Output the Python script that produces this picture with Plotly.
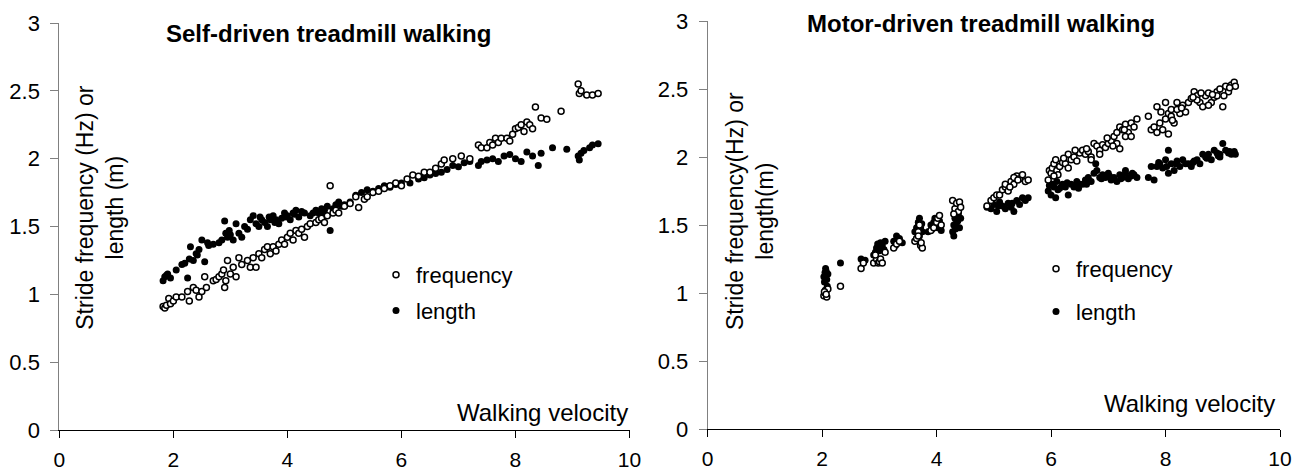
import plotly.graph_objects as go

# ---------------- Data: Self-driven treadmill walking ----------------
self_freq_v = [1.82, 1.85, 1.88, 1.92, 1.95, 2.0, 2.05, 2.15, 2.25, 2.28, 2.35, 2.4, 2.45, 2.5, 2.55, 2.58,
               2.7, 2.75, 2.8, 2.85, 2.88, 2.9, 2.92, 2.95, 3.0, 3.05, 3.1, 3.15, 3.2, 3.3, 3.35, 3.4, 3.45,
               3.5, 3.55, 3.6, 3.65, 3.7, 3.75, 3.8, 3.85, 3.9, 3.95, 4.0, 4.05, 4.1, 4.15, 4.2, 4.25, 4.3,
               4.35, 4.4, 4.5, 4.55, 4.6, 4.65, 4.7, 4.75, 4.8, 4.85, 4.9, 5.0, 5.1, 5.2, 5.25, 5.35, 5.4,
               5.5, 5.6, 5.7, 5.8, 5.9, 6.0, 6.1, 6.2, 6.3, 6.4, 6.5, 6.6, 6.7, 6.75, 6.9, 7.05, 7.2, 7.35,
               7.4, 7.5, 7.55, 7.6, 7.65, 7.7, 7.75, 7.85, 7.9, 7.95, 8.0, 8.05, 8.1, 8.15, 8.2, 8.25, 8.3,
               8.35, 8.45, 8.55, 8.8, 9.1, 9.12, 9.15, 9.25, 9.35, 9.45]
self_freq_y = [0.91, 0.90, 0.92, 0.97, 0.93, 0.95, 0.98, 0.98, 1.02, 0.95, 1.05, 1.03, 0.98, 1.02, 1.13, 1.05,
               1.10, 1.11, 1.13, 1.15, 1.18, 1.05, 1.10, 1.25, 1.15, 1.20, 1.13, 1.27, 1.22, 1.25, 1.20, 1.27, 1.20,
               1.30, 1.27, 1.33, 1.35, 1.30, 1.35, 1.32, 1.37, 1.40, 1.37, 1.42, 1.45, 1.40, 1.47, 1.45, 1.48, 1.42,
               1.50, 1.52, 1.53, 1.55, 1.56, 1.53, 1.58, 1.80, 1.60, 1.62, 1.60, 1.65, 1.67, 1.72, 1.64, 1.70, 1.72,
               1.75, 1.76, 1.78, 1.80, 1.82, 1.80, 1.85, 1.88, 1.87, 1.90, 1.90, 1.93, 1.96, 1.99, 2.00, 2.02, 2.00, 2.10,
               2.08, 2.08, 2.12, 2.10, 2.15, 2.12, 2.15, 2.15, 2.13, 2.18, 2.22, 2.23, 2.25, 2.20, 2.27, 2.25, 2.22,
               2.38, 2.30, 2.29, 2.35, 2.55, 2.48, 2.50, 2.47, 2.47, 2.48]

self_len_v = [1.82, 1.85, 1.9, 1.95, 2.05, 2.15, 2.2, 2.25, 2.3, 2.35, 2.4, 2.45, 2.5, 2.55, 2.6, 2.7, 2.8,
              2.85, 2.9, 2.92, 2.95, 3.0, 3.05, 3.1, 3.15, 3.2, 3.3, 3.35, 3.4, 3.45, 3.5, 3.55, 3.6, 3.65,
              3.7, 3.75, 3.8, 3.85, 3.9, 3.95, 4.0, 4.05, 4.1, 4.15, 4.2, 4.3, 4.4, 4.5, 4.55, 4.6, 4.65,
              4.7, 4.75, 4.8, 4.85, 4.9, 5.0, 5.1, 5.2, 5.3, 5.4, 5.5, 5.6, 5.7, 5.8, 5.9, 6.0, 6.15, 6.3,
              6.4, 6.5, 6.6, 6.7, 6.8, 6.9, 7.0, 7.1, 7.2, 7.35, 7.4, 7.5, 7.6, 7.7, 7.8, 7.9, 8.0, 8.1,
              8.2, 8.3, 8.4, 8.45, 8.65, 8.9, 9.1, 9.12, 9.15, 9.2, 9.3, 9.35, 9.45,
              1.88, 2.28, 2.42, 2.62, 2.98, 3.25, 3.52, 3.68, 3.78, 3.98, 4.12, 4.25, 4.45, 4.62, 4.95]
self_len_y = [1.10, 1.13, 1.15, 1.12, 1.18, 1.22, 1.23, 1.12, 1.35, 1.25, 1.30, 1.33, 1.40, 1.24, 1.38, 1.37, 1.38,
              1.40, 1.54, 1.45, 1.42, 1.44, 1.40, 1.52, 1.45, 1.42, 1.48, 1.55, 1.58, 1.52, 1.50, 1.55, 1.53, 1.50,
              1.55, 1.58, 1.55, 1.52, 1.56, 1.60, 1.58, 1.55, 1.60, 1.62, 1.57, 1.60, 1.58, 1.62, 1.60, 1.63, 1.62,
              1.65, 1.47, 1.63, 1.66, 1.68, 1.66, 1.68, 1.73, 1.75, 1.77, 1.76, 1.78, 1.80, 1.79, 1.81, 1.82, 1.82, 1.85,
              1.86, 1.88, 1.89, 1.90, 1.92, 1.95, 1.94, 1.97, 1.98, 1.95, 1.98, 1.99, 2.00, 1.98, 2.02, 2.03, 2.00, 1.98,
              2.05, 2.02, 1.95, 2.04, 2.08, 2.07, 2.02, 1.99, 2.04, 2.06, 2.08, 2.10, 2.11,
              1.14, 1.26, 1.29, 1.36, 1.47, 1.50, 1.57, 1.57, 1.53, 1.57, 1.59, 1.61, 1.60, 1.60, 1.65]

# ---------------- Data: Motor-driven treadmill walking ----------------
motor_freq_v = [2.03, 2.05, 2.06, 2.08, 2.1, 2.04, 2.07, 2.32, 2.68, 2.72,
                2.9, 2.95, 2.98, 3.0, 3.02, 3.05, 2.93, 3.1, 3.25, 3.3, 3.35,
                3.62, 3.65, 3.68, 3.7, 3.72, 3.75, 3.68, 3.73, 3.9, 3.95, 4.0, 4.02, 4.05, 4.08,
                4.28, 4.32, 4.35, 4.38, 4.4, 4.42, 4.3,
                4.88, 4.95, 5.0, 5.05, 5.1, 5.15, 5.2, 5.25, 5.3, 5.35, 5.4, 5.45, 5.5, 5.55, 5.35, 5.6, 5.2,
                5.95, 5.97, 6.0, 6.02, 6.05, 6.08, 6.1, 6.15, 6.2, 6.25, 6.3, 6.35, 6.4, 6.45, 6.5, 6.12, 6.3,
                6.55, 6.6, 6.65, 6.7, 6.75, 6.8, 6.85, 6.9, 6.95, 7.0, 7.05, 7.1, 7.15, 7.2, 7.25, 7.3, 7.35,
                7.4, 7.45, 7.5, 7.15, 7.2, 7.3, 7.4, 6.7, 6.85,
                7.7, 7.75, 7.8, 7.85, 7.9, 7.95, 8.0, 8.05, 8.05, 8.1, 8.15, 8.2, 8.25, 8.3, 8.0, 8.1, 8.2, 7.85, 8.35,
                8.4, 8.45, 8.5, 8.55, 8.6, 8.65, 8.7, 8.75, 8.8, 8.85, 8.9, 8.95, 9.0, 9.05, 9.1, 9.15, 9.2, 9.22,
                8.55, 8.75, 8.9,
                5.28, 5.42, 6.05, 6.22, 6.42, 6.62, 6.98, 7.08, 7.28, 7.92, 8.12, 8.28, 8.48, 8.62, 8.82, 9.02, 9.12]
motor_freq_y = [0.98, 1.00, 1.02, 0.97, 1.03, 1.01, 0.99, 1.05, 1.18, 1.22,
                1.22, 1.25, 1.22, 1.23, 1.25, 1.22, 1.28, 1.30, 1.33, 1.36, 1.38,
                1.38, 1.40, 1.45, 1.50, 1.35, 1.33, 1.42, 1.37, 1.46, 1.48, 1.52, 1.55, 1.57, 1.50,
                1.68, 1.62, 1.66, 1.60, 1.67, 1.63, 1.58,
                1.64, 1.68, 1.70, 1.72, 1.72, 1.76, 1.78, 1.75, 1.82, 1.80, 1.86, 1.84, 1.87, 1.82, 1.85, 1.83, 1.80,
                1.83, 1.90, 1.88, 1.92, 1.95, 1.98, 1.90, 1.93, 1.96, 1.95, 2.02, 1.98, 2.00, 1.97, 2.03, 1.87, 1.92,
                2.05, 2.02, 2.04, 2.00, 2.10, 2.08, 2.05, 2.09, 2.07, 2.10, 2.12, 2.15, 2.18, 2.22, 2.20, 2.24, 2.18,
                2.25, 2.22, 2.28, 2.10, 2.06, 2.15, 2.15, 1.98, 2.02,
                2.30, 2.20, 2.22, 2.37, 2.25, 2.20, 2.28, 2.32, 2.17, 2.35, 2.25, 2.40, 2.32, 2.38, 2.40, 2.30, 2.35, 2.18, 2.33,
                2.40, 2.43, 2.48, 2.45, 2.40, 2.37, 2.45, 2.47, 2.40, 2.44, 2.48, 2.50, 2.37, 2.52, 2.48, 2.53, 2.55, 2.52,
                2.42, 2.38, 2.45,
                1.78, 1.83, 1.86, 1.99, 2.05, 2.06, 2.14, 2.08, 2.20, 2.33, 2.27, 2.36, 2.44, 2.47, 2.46, 2.45, 2.51]

motor_len_v = [2.03, 2.05, 2.06, 2.08, 2.1, 2.04, 2.07, 2.09, 2.32, 2.68, 2.75,
               2.9, 2.93, 2.95, 2.98, 3.0, 3.02, 3.05, 3.08, 3.1, 3.25, 3.3, 3.35, 3.4, 3.28,
               3.62, 3.65, 3.68, 3.7, 3.72, 3.75, 3.7, 3.85, 3.9, 3.95, 4.0, 4.02, 4.05, 4.08, 3.92,
               4.28, 4.3, 4.32, 4.35, 4.38, 4.4, 4.42, 4.3,
               4.88, 4.95, 5.0, 5.05, 5.1, 5.15, 5.2, 5.25, 5.3, 5.35, 5.4, 5.45, 5.5, 5.55, 5.6,
               5.95, 6.0, 6.02, 6.05, 6.08, 6.1, 6.15, 6.2, 6.25, 6.3, 6.35, 6.4, 6.45, 6.5,
               6.55, 6.6, 6.65, 6.7, 6.75, 6.8, 6.85, 6.9, 6.95, 7.0, 7.05, 7.1, 7.15, 7.2, 7.25, 7.3, 7.35,
               7.4, 7.45, 7.5, 6.78, 7.3,
               7.7, 7.75, 7.8, 7.85, 7.9, 7.95, 8.0, 8.05, 8.1, 8.15, 8.2, 8.25, 8.3, 8.35, 8.05,
               8.4, 8.45, 8.5, 8.55, 8.6, 8.65, 8.7, 8.75, 8.8, 8.85, 8.9, 8.95, 9.0, 9.05, 9.1, 9.15, 9.2, 9.22, 8.95,
               2.97, 3.03, 3.68, 3.74, 3.97, 4.03, 4.33, 4.37, 5.08, 5.32, 5.97, 6.12, 6.28, 6.48, 6.62, 6.88,
               7.02, 7.22, 7.42, 7.88, 8.02, 8.18, 8.48, 8.72, 8.92, 9.12]
motor_len_y = [1.12, 1.15, 1.18, 1.10, 1.14, 1.08, 1.16, 1.05, 1.22, 1.25, 1.24,
               1.28, 1.30, 1.33, 1.35, 1.31, 1.37, 1.35, 1.32, 1.38, 1.38, 1.42, 1.40, 1.37, 1.35,
               1.45, 1.48, 1.52, 1.55, 1.48, 1.45, 1.42, 1.45, 1.50, 1.52, 1.50, 1.48, 1.53, 1.46, 1.47,
               1.45, 1.50, 1.55, 1.52, 1.58, 1.48, 1.55, 1.42,
               1.63, 1.62, 1.65, 1.60, 1.67, 1.64, 1.62, 1.66, 1.63, 1.60, 1.68, 1.65, 1.70, 1.68, 1.70,
               1.75, 1.72, 1.80, 1.78, 1.70, 1.82, 1.77, 1.80, 1.78, 1.72, 1.80, 1.78, 1.82, 1.80,
               1.80, 1.83, 1.85, 1.82, 1.88, 1.90, 1.85, 1.87, 1.85, 1.88, 1.83, 1.85, 1.82, 1.87, 1.85, 1.88, 1.84,
               1.86, 1.87, 1.85, 1.95, 1.90,
               1.85, 1.93, 1.83, 1.93, 1.95, 1.92, 1.98, 2.05, 1.95, 1.90, 1.97, 1.93, 1.98, 1.95, 1.88,
               1.95, 1.93, 1.97, 1.98, 1.95, 2.02, 2.00, 2.02, 1.98, 2.05, 2.03, 2.02, 2.10, 2.05, 2.03, 2.02, 2.04, 2.02, 2.00,
               1.36, 1.33, 1.49, 1.51, 1.55, 1.51, 1.47, 1.53, 1.64, 1.66, 1.79, 1.76, 1.81, 1.77, 1.80, 1.84,
               1.86, 1.84, 1.88, 1.96, 1.93, 1.95, 1.96, 1.99, 2.01, 2.04]

titles = ["Self-driven treadmill walking", "Motor-driven treadmill walking"]
ytitles = ["Stride frequency (Hz) or<br>length (m)", "Stride frequency(Hz) or<br>length(m)"]
xtitle = "Walking velocity"
FONT = "Liberation Sans, Arial, sans-serif"

# The page body has an 8px margin, so the figure is drawn 8px smaller and
# every page-pixel position below is shifted by OFF.
OFF = 8
W, H = 1303 - OFF, 472 - OFF


def px(xp):
    return (xp - OFF) / W


def py(yp):
    return 1 - (yp - OFF) / H


fig = go.Figure()

open_marker = dict(symbol="circle", size=6, color="white", line=dict(color="black", width=1.5))
fill_marker = dict(symbol="circle", size=7, color="black", line=dict(width=0))

fig.add_trace(go.Scatter(x=self_len_v, y=self_len_y, mode="markers", name="length", marker=fill_marker,
                         xaxis="x", yaxis="y", legend="legend", legendrank=2, legendgroup="a"))
fig.add_trace(go.Scatter(x=self_freq_v, y=self_freq_y, mode="markers", name="frequency", marker=open_marker,
                         xaxis="x", yaxis="y", legend="legend", legendrank=1, legendgroup="b"))
fig.add_trace(go.Scatter(x=motor_len_v, y=motor_len_y, mode="markers", name="length", marker=fill_marker,
                         xaxis="x2", yaxis="y2", legend="legend2", legendrank=2, legendgroup="c"))
fig.add_trace(go.Scatter(x=motor_freq_v, y=motor_freq_y, mode="markers", name="frequency", marker=open_marker,
                         xaxis="x2", yaxis="y2", legend="legend2", legendrank=1, legendgroup="d"))


def xax(domain, anchor):
    return dict(domain=domain, anchor=anchor, range=[0, 10], tickvals=[0, 2, 4, 6, 8, 10],
                showgrid=False, zeroline=False, showline=True, linecolor="black", linewidth=1,
                ticks="outside", ticklen=7, tickcolor="black", tickwidth=1, automargin=False,
                ticklabelstandoff=4, tickfont=dict(family=FONT, size=21, color="black"), fixedrange=True)


def yax(domain, anchor):
    return dict(domain=domain, anchor=anchor, range=[0, 3], tickvals=[0, 0.5, 1, 1.5, 2, 2.5, 3],
                ticktext=["0", "0.5", "1", "1.5", "2", "2.5", "3"],
                showgrid=False, zeroline=False, showline=True, linecolor="#808080", linewidth=1,
                ticks="outside", ticklen=8, tickcolor="#808080", tickwidth=1, automargin=False,
                ticklabelstandoff=6, tickfont=dict(family=FONT, size=22, color="black"), fixedrange=True)


legend_common = dict(bgcolor="rgba(0,0,0,0)", font=dict(family=FONT, size=22, color="black"),
                     xanchor="left", yanchor="top", itemwidth=30, tracegroupgap=4, traceorder="grouped")

fig.update_layout(
    template="none",
    width=W, height=H, autosize=False,
    margin=dict(l=0, r=0, t=0, b=0, pad=0),
    paper_bgcolor="white", plot_bgcolor="white",
    font=dict(family=FONT, size=23, color="black"),
    xaxis=xax([px(59.3), px(629.5)], "y"),
    yaxis=yax([py(430), py(23)], "x"),
    xaxis2=xax([px(707.7), px(1280)], "y2"),
    yaxis2=yax([py(429), py(21)], "x2"),
    legend=dict(x=px(376), y=py(254), **legend_common),
    legend2=dict(x=px(1036), y=py(248), **{**legend_common, "tracegroupgap": 11}),
    showlegend=True,
)

annots = [
    dict(text="<b>" + titles[0] + "</b>", x=px(328), y=py(33), xref="paper", yref="paper",
         xanchor="center", yanchor="middle", showarrow=False, font=dict(family=FONT, size=24)),
    dict(text="<b>" + titles[1] + "</b>", x=px(981), y=py(24), xref="paper", yref="paper",
         xanchor="center", yanchor="middle", showarrow=False, font=dict(family=FONT, size=24)),
    dict(text=ytitles[0], x=0.70, y=1.64, xref="x", yref="y", textangle=-90,
         xanchor="center", yanchor="middle", showarrow=False, font=dict(family=FONT, size=23)),
    dict(text=ytitles[1], x=0.75, y=1.60, xref="x2", yref="y2", textangle=-90,
         xanchor="center", yanchor="middle", showarrow=False, font=dict(family=FONT, size=23)),
    dict(text=xtitle, x=px(630), y=py(412), xref="paper", yref="paper",
         xanchor="right", yanchor="middle", showarrow=False, font=dict(family=FONT, size=24)),
    dict(text=xtitle, x=px(1277), y=py(403), xref="paper", yref="paper",
         xanchor="right", yanchor="middle", showarrow=False, font=dict(family=FONT, size=24)),
]
fig.update_layout(annotations=annots)

fig.write_html("out.html", config={"displayModeBar": False})
